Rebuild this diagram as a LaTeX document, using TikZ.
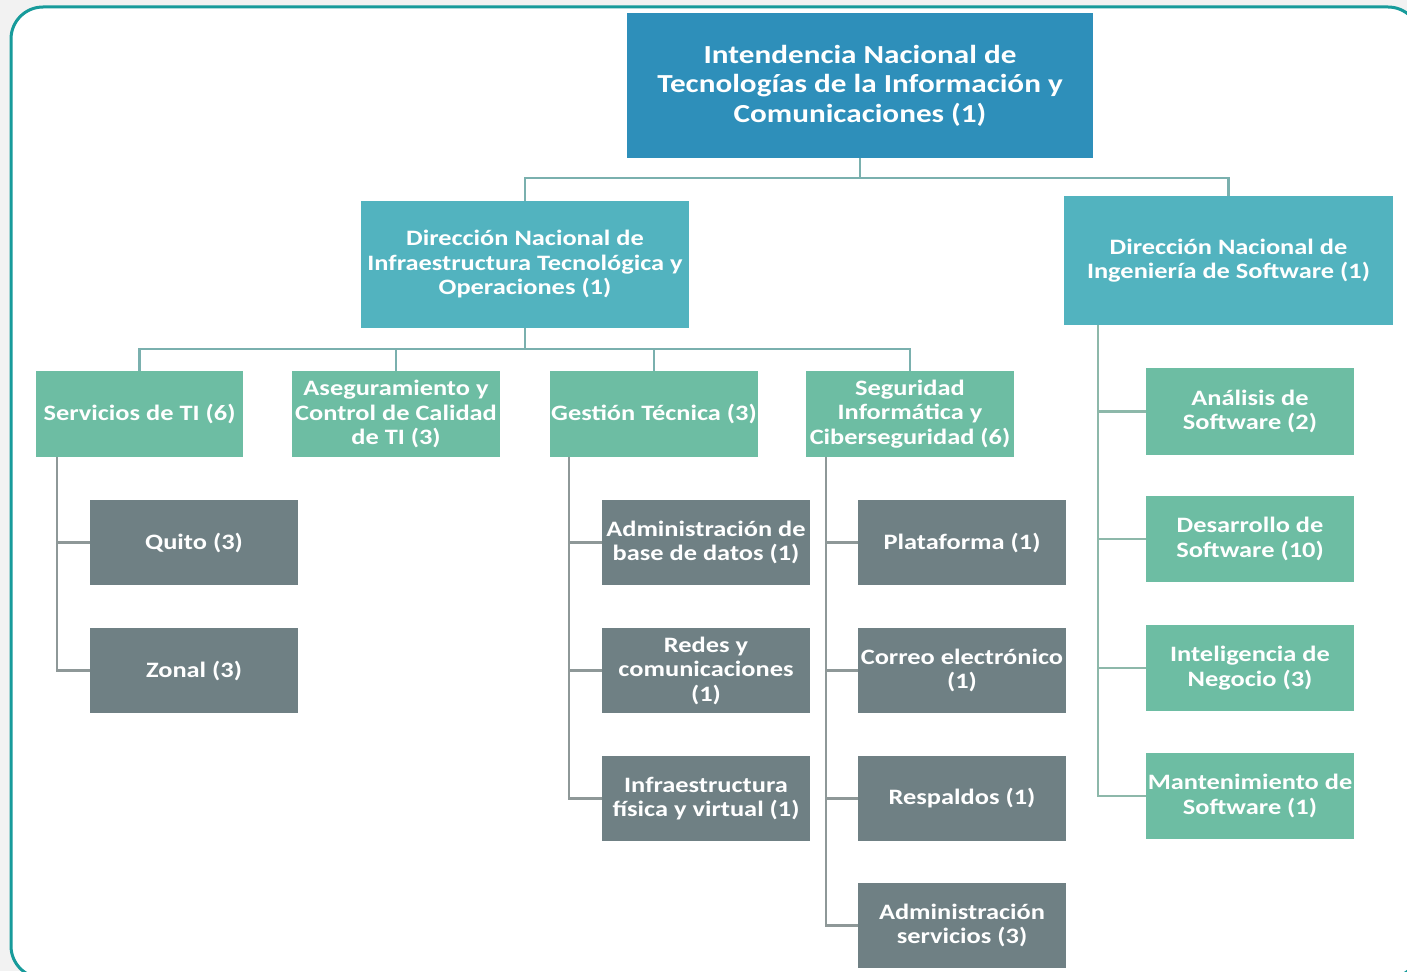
\documentclass[tikz,border=0pt]{standalone}
\usepackage{fontspec}
\setmainfont[FakeStretch=1.2]{Carlito}
\definecolor{outerbg}{HTML}{F2F2F2}
\definecolor{framec}{HTML}{179B9B}
\definecolor{topblue}{HTML}{2E8FBA}
\definecolor{dirteal}{HTML}{52B3BF}
\definecolor{unitgreen}{HTML}{6DBDA3}
\definecolor{unitgray}{HTML}{6F8084}
\definecolor{lineteal}{HTML}{7AB0AE}
\definecolor{linegray}{HTML}{8E9898}
\definecolor{linegreen}{HTML}{8DB8AA}
\tikzset{
  basebox/.style={rectangle, inner sep=0pt, text=white, align=center, font=\bfseries\fontsize{22}{24.5}\selectfont},
  topbox/.style={basebox, fill=topblue, minimum width=466pt, minimum height=145pt, font=\bfseries\fontsize{26}{29.5}\selectfont},
  dirbox/.style={basebox, fill=dirteal, minimum width=328pt, minimum height=127pt},
  greenbox/.style={basebox, fill=unitgreen, minimum width=208pt, minimum height=86pt},
  graybox/.style={basebox, fill=unitgray, minimum width=208pt, minimum height=85pt},
  conn/.style={draw=lineteal, line width=2.5pt},
  conngray/.style={draw=linegray, line width=2.5pt},
  conngreen/.style={draw=linegreen, line width=2.5pt}
}
\begin{document}
\begin{tikzpicture}[x=1pt, y=-1pt]
\clip (0,0) rectangle (1407,971);
\fill[outerbg] (0,0) rectangle (1407,971);
\draw[framec, line width=3pt, fill=white, rounded corners=32pt] (11,7) rectangle (1420,978);

% level 1
\node[topbox] (top) at (860,85.5) {Intendencia Nacional de\\Tecnologías de la Información y\\Comunicaciones (1)};
% level 2
\node[dirbox] (infra) at (525,264.5) {Dirección Nacional de\\Infraestructura Tecnológica y\\Operaciones (1)};
\node[dirbox, minimum width=329pt, minimum height=129pt] (ing) at (1228.5,260.5) {Dirección Nacional de\\Ingeniería de Software (1)};
% level 3
\node[greenbox, minimum width=207pt] (serv) at (139.5,414) {Servicios de TI (6)};
\node[greenbox] (aseg) at (396,414) {Aseguramiento y\\Control de Calidad\\de TI (3)};
\node[greenbox] (gest) at (654,414) {Gestión Técnica (3)};
\node[greenbox] (seg) at (910,414) {Seguridad\\Informática y\\Ciberseguridad (6)};
% gray units
\node[graybox] (quito) at (194,542.5) {Quito (3)};
\node[graybox] (zonal) at (194,670.5) {Zonal (3)};
\node[graybox] (abd) at (706,542.5) {Administración de\\base de datos (1)};
\node[graybox] (redes) at (706,670.5) {Redes y\\comunicaciones\\(1)};
\node[graybox] (ifv) at (706,798.5) {Infraestructura\\física y virtual (1)};
\node[graybox] (plat) at (962,542.5) {Plataforma (1)};
\node[graybox] (correo) at (962,670.5) {Correo electrónico\\(1)};
\node[graybox] (resp) at (962,798.5) {Respaldos (1)};
\node[graybox] (aserv) at (962,925.5) {Administración\\servicios (3)};
% software units
\node[greenbox, minimum height=87pt] (anal) at (1250,411.5) {Análisis de\\Software (2)};
\node[greenbox] (desa) at (1250,539) {Desarrollo de\\Software (10)};
\node[greenbox] (intel) at (1250,668) {Inteligencia de\\Negocio (3)};
\node[greenbox] (mant) at (1250,796) {Mantenimiento de\\Software (1)};

% connectors
\coordinate (j1) at (860,178);
\coordinate (j2) at (525,349);
\draw[conn] (top.south) -- (j1);
\draw[conn] (j1) -| (infra.north);
\draw[conn] (j1) -| (ing.north);
\draw[conn] (infra.south) -- (j2);
\draw[conn] (j2) -| (serv.north);
\draw[conn] (j2) -| (aseg.north);
\draw[conn] (j2) -| (gest.north);
\draw[conn] (j2) -| (seg.north);

\draw[conngray] ([xshift=21pt]serv.south west) |- (quito.west);
\draw[conngray] ([xshift=21pt]serv.south west) |- (zonal.west);
\draw[conngray] ([xshift=19pt]gest.south west) |- (abd.west);
\draw[conngray] ([xshift=19pt]gest.south west) |- (redes.west);
\draw[conngray] ([xshift=19pt]gest.south west) |- (ifv.west);
\draw[conngray] ([xshift=20pt]seg.south west) |- (plat.west);
\draw[conngray] ([xshift=20pt]seg.south west) |- (correo.west);
\draw[conngray] ([xshift=20pt]seg.south west) |- (resp.west);
\draw[conngray] ([xshift=20pt]seg.south west) |- (aserv.west);
\draw[conngreen] ([xshift=34pt]ing.south west) |- (anal.west);
\draw[conngreen] ([xshift=34pt]ing.south west) |- (desa.west);
\draw[conngreen] ([xshift=34pt]ing.south west) |- (intel.west);
\draw[conngreen] ([xshift=34pt]ing.south west) |- (mant.west);
\end{tikzpicture}
\end{document}
